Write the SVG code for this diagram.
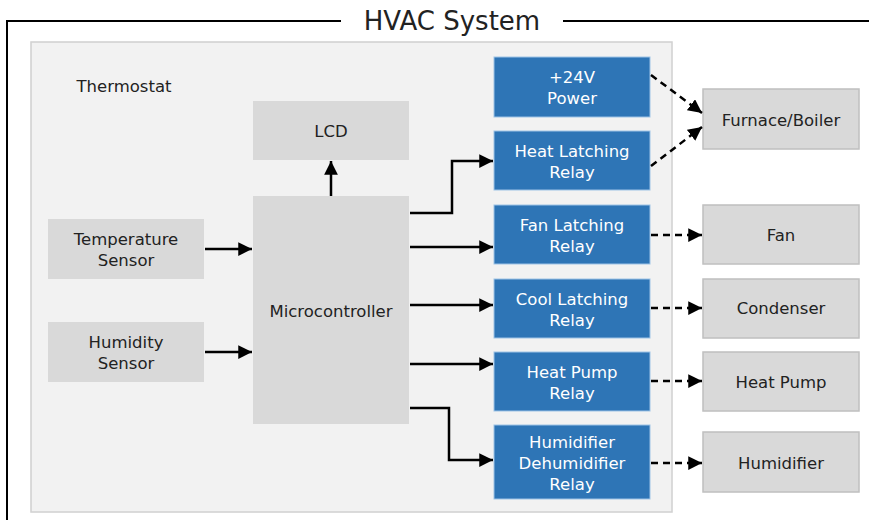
<svg xmlns="http://www.w3.org/2000/svg" width="869" height="520" viewBox="0 0 869 520">
<defs>
<style>
text{font-family:"DejaVu Sans","Noto Sans",sans-serif;font-size:16.5px;text-anchor:middle;fill:#222}
.w{fill:#fff}
.blue{fill:#2e75b6;stroke:#9dc3e6;stroke-width:1}
.in{fill:#d9d9d9}
.out{fill:#d9d9d9;stroke:#bfbfbf;stroke-width:1.5}
.s{fill:none;stroke:#000;stroke-width:2.5}
.d{fill:none;stroke:#000;stroke-width:2.5;stroke-dasharray:7 5}
</style>
<marker id="ah" viewBox="0 0 10 10" refX="10" refY="5" markerWidth="5.5" markerHeight="5.5" orient="auto" markerUnits="strokeWidth">
<path d="M0,0 L10,5 L0,10 z" fill="#000"/>
</marker>
</defs>
<rect width="869" height="520" fill="#fff"/>
<g id="frame">
<path d="M341,21 H7 V520 M563,21 H869" fill="none" stroke="#000" stroke-width="2"/>
<text x="452" y="30" style="font-size:26px">HVAC System</text>
</g>
<g id="thermostat">
<rect x="31" y="42" width="641" height="470" fill="#f2f2f2" stroke="#d0d0d0" stroke-width="1.5"/>
<text x="124" y="92">Thermostat</text>
</g>
<g id="lcd"><rect class="in" x="253" y="101" width="156" height="59"/><text x="331" y="137">LCD</text></g>
<g id="temp"><rect class="in" x="48" y="219" width="156" height="60"/><text x="126" y="245">Temperature</text><text x="126" y="266">Sensor</text></g>
<g id="humid"><rect class="in" x="48" y="322" width="156" height="60"/><text x="126" y="348">Humidity</text><text x="126" y="369">Sensor</text></g>
<g id="micro"><rect class="in" x="253" y="196" width="156" height="228"/><text x="331" y="317">Microcontroller</text></g>
<g id="power"><rect class="blue" x="494" y="57" width="156" height="60"/><text class="w" x="572" y="83">+24V</text><text class="w" x="572" y="104">Power</text></g>
<g id="heatrelay"><rect class="blue" x="494" y="131" width="156" height="59"/><text class="w" x="572" y="157">Heat Latching</text><text class="w" x="572" y="178">Relay</text></g>
<g id="fanrelay"><rect class="blue" x="494" y="205" width="156" height="59"/><text class="w" x="572" y="231">Fan Latching</text><text class="w" x="572" y="252">Relay</text></g>
<g id="coolrelay"><rect class="blue" x="494" y="279" width="156" height="59"/><text class="w" x="572" y="305">Cool Latching</text><text class="w" x="572" y="326">Relay</text></g>
<g id="hprelay"><rect class="blue" x="494" y="352" width="156" height="59"/><text class="w" x="572" y="378">Heat Pump</text><text class="w" x="572" y="399">Relay</text></g>
<g id="humrelay"><rect class="blue" x="494" y="425" width="156" height="74"/><text class="w" x="572" y="448">Humidifier</text><text class="w" x="572" y="469">Dehumidifier</text><text class="w" x="572" y="490">Relay</text></g>
<g id="furnace"><rect class="out" x="703" y="89" width="156" height="60"/><text x="781" y="126">Furnace/Boiler</text></g>
<g id="fan"><rect class="out" x="703" y="205" width="156" height="59"/><text x="781" y="241">Fan</text></g>
<g id="condenser"><rect class="out" x="703" y="279" width="156" height="59"/><text x="781" y="314">Condenser</text></g>
<g id="heatpump"><rect class="out" x="703" y="352" width="156" height="59"/><text x="781" y="388">Heat Pump</text></g>
<g id="humidifier"><rect class="out" x="703" y="432" width="156" height="60"/><text x="781" y="469">Humidifier</text></g>
<g id="connectors">
<path class="s" d="M331,196 V161" marker-end="url(#ah)"/>
<path class="s" d="M205,249 H252" marker-end="url(#ah)"/>
<path class="s" d="M205,352 H252" marker-end="url(#ah)"/>
<path class="s" d="M410,213 H452 V161 H493" marker-end="url(#ah)"/>
<path class="s" d="M410,247 H493" marker-end="url(#ah)"/>
<path class="s" d="M410,305 H493" marker-end="url(#ah)"/>
<path class="s" d="M410,364 H493" marker-end="url(#ah)"/>
<path class="s" d="M410,408 H449 V460 H493" marker-end="url(#ah)"/>
<path class="d" d="M651,75 L702,113" marker-end="url(#ah)"/>
<path class="d" d="M651,166 L702,127" marker-end="url(#ah)"/>
<path class="d" d="M651,235 H702" marker-end="url(#ah)"/>
<path class="d" d="M651,308 H702" marker-end="url(#ah)"/>
<path class="d" d="M651,381 H702" marker-end="url(#ah)"/>
<path class="d" d="M651,463 H702" marker-end="url(#ah)"/>
</g>
</svg>
